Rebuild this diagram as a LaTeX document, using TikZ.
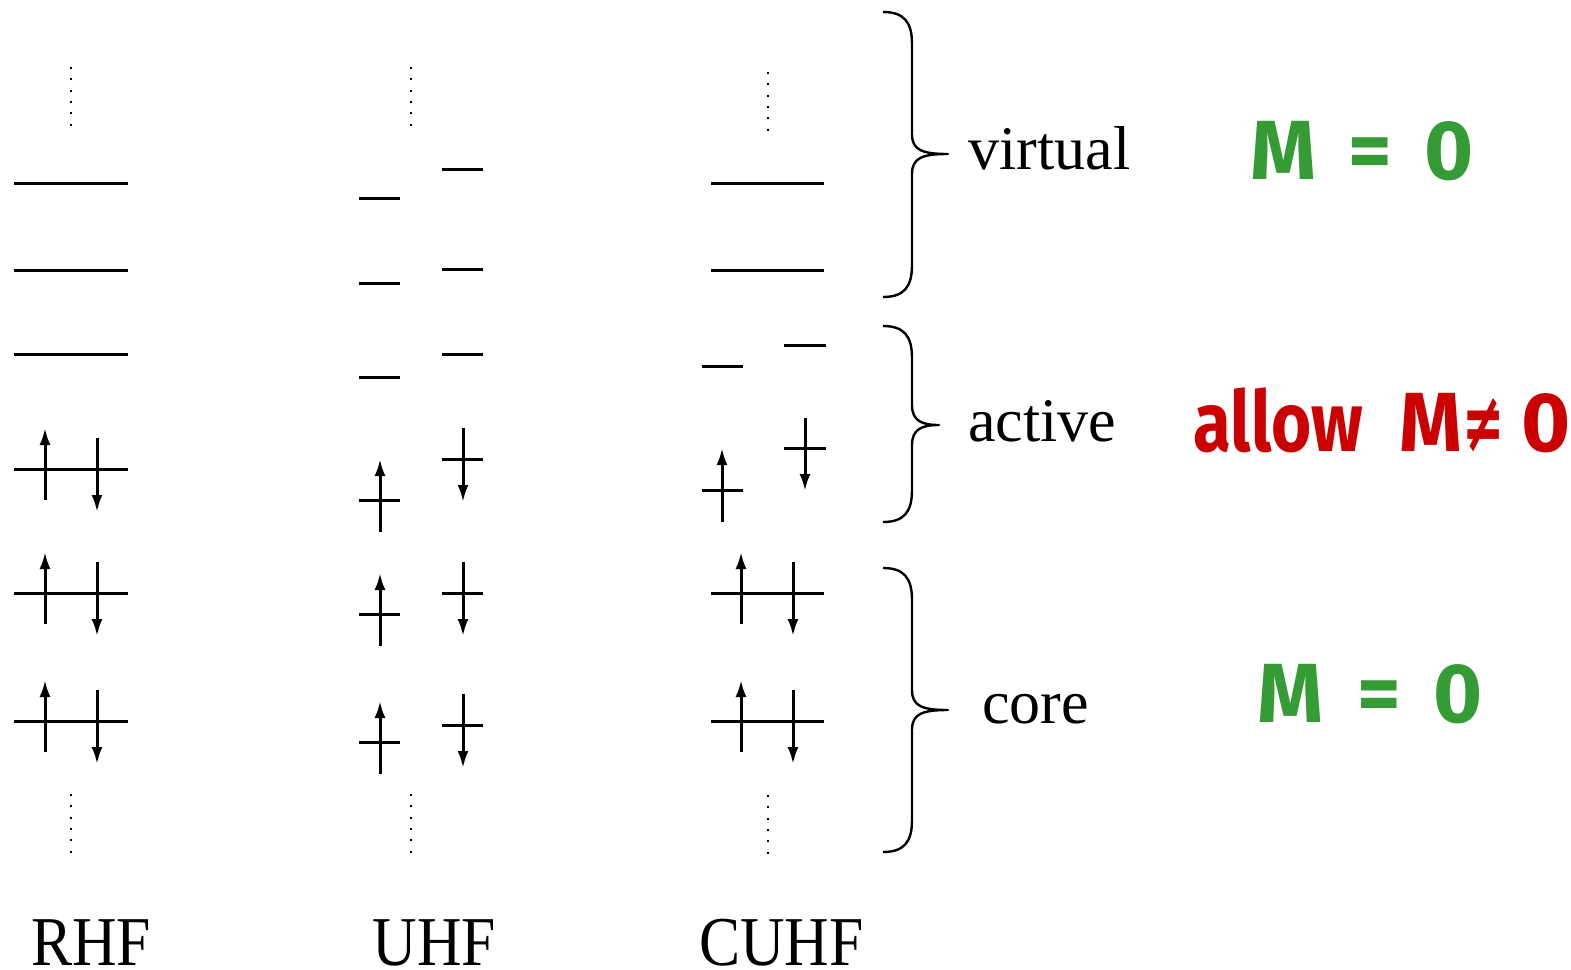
\documentclass[tikz,border=0pt]{standalone}
\usepackage{fontspec}
\usepackage{graphicx}
\setmainfont{Liberation Serif}
\newfontfamily\comicf{Fira Sans}
\newfontfamily\symf{DejaVu Sans}
\usetikzlibrary{arrows.meta}
\definecolor{mgreen}{RGB}{53,155,53}
\definecolor{mred}{RGB}{204,0,0}
\newcommand\mybrace[4]{%
  \draw[bracestyle] (883,#1) .. controls (904,#1) and (912,#1+10) .. (912,#1+32)
    -- (912,#2-20) .. controls (912,#2-4) and (922,#2) .. (#4,#2)
    .. controls (922,#2) and (912,#2+4) .. (912,#2+20)
    -- (912,#3-32) .. controls (912,#3-10) and (904,#3) .. (883,#3);}
\begin{document}
\begin{tikzpicture}[x=0.5pt,y=-0.5pt,
  level/.style={line width=1.5pt},
  spinup/.style={line width=1.5pt,-{Latex[length=8.5pt,width=5.5pt]}},
  vdots/.style={line width=1pt,dash pattern=on 1pt off 4.65pt},
  bracestyle/.style={line width=1.2pt,line join=round},
  lab/.style={anchor=base,inner sep=0pt,text depth=0pt,font=\fontsize{35}{40}\selectfont},
  region/.style={anchor=base west,inner sep=0pt,font=\fontsize{31}{37}\selectfont},
  mlab/.style={anchor=base west,inner sep=0pt,font=\comicf\bfseries\fontsize{42}{48}\selectfont}]
\useasboundingbox (0,0) rectangle (1571,970);

% ---------- RHF ----------
\draw[vdots] (71,67) -- (71,127);
\foreach \y in {183,270,354} \draw[level] (14,\y) -- (128,\y);
\foreach \h in {469,593,721} {
  \draw[level] (14,\h) -- (128,\h);
  \draw[spinup] (45,\h+31) -- (45,\h-41);
  \draw[spinup] (97,\h-31) -- (97,\h+43);
}
\draw[vdots] (71,794) -- (71,854);

% ---------- UHF ----------
\draw[vdots] (411,67) -- (411,127);
\foreach \y in {198,283,377} \draw[level] (359,\y) -- (400,\y);
\foreach \y in {169,269,354} \draw[level] (442,\y) -- (483,\y);
\foreach \h in {500,614,742} {
  \draw[level] (359,\h) -- (400,\h);
  \draw[spinup] (380,\h+32) -- (380,\h-41);
}
\foreach \h in {459,593,725} {
  \draw[level] (442,\h) -- (483,\h);
  \draw[spinup] (463,\h-31) -- (463,\h+43);
}
\draw[vdots] (411,794) -- (411,854);

% ---------- CUHF ----------
\draw[vdots] (768,72) -- (768,132);
\foreach \y in {183,270} \draw[level] (711,\y) -- (824,\y);
\draw[level] (702,366) -- (743,366);
\draw[level] (784,345) -- (826,345);
\draw[level] (702,490) -- (743,490);
\draw[spinup] (722,522) -- (722,448);
\draw[level] (784,448) -- (826,448);
\draw[spinup] (805,418) -- (805,491);
\foreach \h in {593,721} {
  \draw[level] (711,\h) -- (824,\h);
  \draw[spinup] (741,\h+31) -- (741,\h-41);
  \draw[spinup] (793,\h-31) -- (793,\h+43);
}
\draw[vdots] (768,795) -- (768,855);

% ---------- braces ----------
\mybrace{12}{154}{297}{948}
\mybrace{326}{425}{522}{939}
\mybrace{568}{710}{852}{948}

\node[region] (virt) at (968,169) {virtual};
\node[region] (act) at (968,441) {active};
\node[region] (core) at (982,723) {core};

\node[mlab,text=mgreen] (mvirt) at (1283,179)
  {\makebox[0pt]{M}\hspace{43.5pt}\makebox[0pt]{=}\hspace{39.5pt}\makebox[0pt]{0}};
\node[mlab,text=mred] (mact) at (1278,451)
  {\makebox[0pt]{\scalebox{0.82}[1]{allow}}\hspace{76.25pt}\makebox[0pt]{\scalebox{0.95}[1]{M}}\hspace{26.25pt}\makebox[0pt]{\symf\bfseries\scalebox{0.6}[1]{≠}}\hspace{31.5pt}\makebox[0pt]{0}};
\node[mlab,text=mgreen] (mcore) at (1290.5,722)
  {\makebox[0pt]{M}\hspace{44.25pt}\makebox[0pt]{=}\hspace{39.25pt}\makebox[0pt]{0}};

\node[lab] (rhf) at (91,965) {\scalebox{0.88}[1]{RHF}};
\node[lab] (uhf) at (434.5,965) {\scalebox{0.88}[1]{UHF}};
\node[lab] (cuhf) at (781.5,965) {\scalebox{0.88}[1]{CUHF}};
\end{tikzpicture}
\end{document}
